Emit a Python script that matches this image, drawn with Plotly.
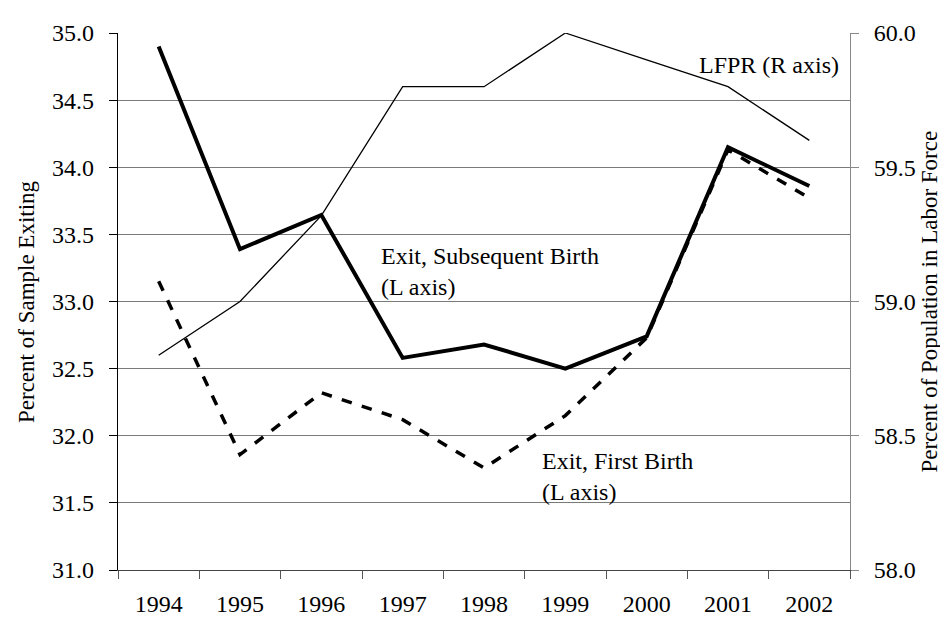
import plotly.graph_objects as go

years = ["1994", "1995", "1996", "1997", "1998", "1999", "2000", "2001", "2002"]
exit_subsequent = [34.90, 33.39, 33.645, 32.58, 32.68, 32.50, 32.74, 34.15, 33.86]
exit_first = [33.15, 31.86, 32.32, 32.12, 31.76, 32.15, 32.73, 34.13, 33.77]
lfpr = [58.8, 59.0, 59.32, 59.8, 59.8, 60.0, 59.9, 59.8, 59.6]

FONT = "Liberation Serif, Times New Roman, serif"

fig = go.Figure()
fig.add_trace(go.Scatter(x=years, y=lfpr, mode="lines", yaxis="y2",
                         line=dict(color="black", width=1.3), showlegend=False))
fig.add_trace(go.Scatter(x=years, y=exit_first, mode="lines",
                         line=dict(color="black", width=3.5, dash="dash"), showlegend=False))
fig.add_trace(go.Scatter(x=years, y=exit_subsequent, mode="lines",
                         line=dict(color="black", width=4), showlegend=False))

fig.update_layout(
    width=948, height=621,
    margin=dict(l=110, r=106, t=21, b=56),
    paper_bgcolor="white", plot_bgcolor="white",
    font=dict(family=FONT, size=24, color="black"),
    xaxis=dict(type="category", range=[-0.5, 8.5], tickson="boundaries",
               ticks="outside", ticklen=8, tickcolor="#555", showgrid=False,
               showline=True, linecolor="#444", linewidth=1,
               ticklabelstandoff=12, zeroline=False,
               tickfont=dict(size=24)),
    yaxis=dict(range=[31, 35], dtick=0.5, tick0=31, tickformat=".1f",
               ticks="outside", ticklen=8, tickcolor="black",
               showgrid=True, gridcolor="#7a7a7a", gridwidth=1,
               showline=True, linecolor="black", linewidth=1.3,
               ticklabelstandoff=10, zeroline=False,
               tickfont=dict(size=24)),
    yaxis2=dict(range=[58, 60], dtick=0.5, tick0=58, tickformat=".1f",
                overlaying="y", side="right", showgrid=False,
                ticks="outside", ticklen=8, tickcolor="#888",
                showline=True, linecolor="#888", linewidth=1,
                ticklabelstandoff=10, zeroline=False,
                tickfont=dict(size=24)),
    annotations=[
        dict(text="Percent of Sample Exiting", xref="paper", yref="paper",
             x=-0.125, y=0.5, xanchor="center", yanchor="middle",
             textangle=-90, showarrow=False, font=dict(size=23)),
        dict(text="Percent of Population in Labor Force", xref="paper", yref="paper",
             x=1.108, y=0.5, xanchor="center", yanchor="middle",
             textangle=-90, showarrow=False, font=dict(size=23)),
        dict(text="LFPR (R axis)", xref="x", yref="y", x=7.5, y=34.76,
             xanchor="center", yanchor="middle", showarrow=False, font=dict(size=24)),
        dict(text="Exit, Subsequent Birth<br>(L axis)", xref="x", yref="y",
             x=2.705, y=33.22, xanchor="left", yanchor="middle", align="left",
             showarrow=False, font=dict(size=24)),
        dict(text="Exit, First Birth<br>(L axis)", xref="x", yref="y",
             x=4.69, y=31.70, xanchor="left", yanchor="middle", align="left",
             showarrow=False, font=dict(size=24)),
    ],
)

fig.write_html("out.html")
